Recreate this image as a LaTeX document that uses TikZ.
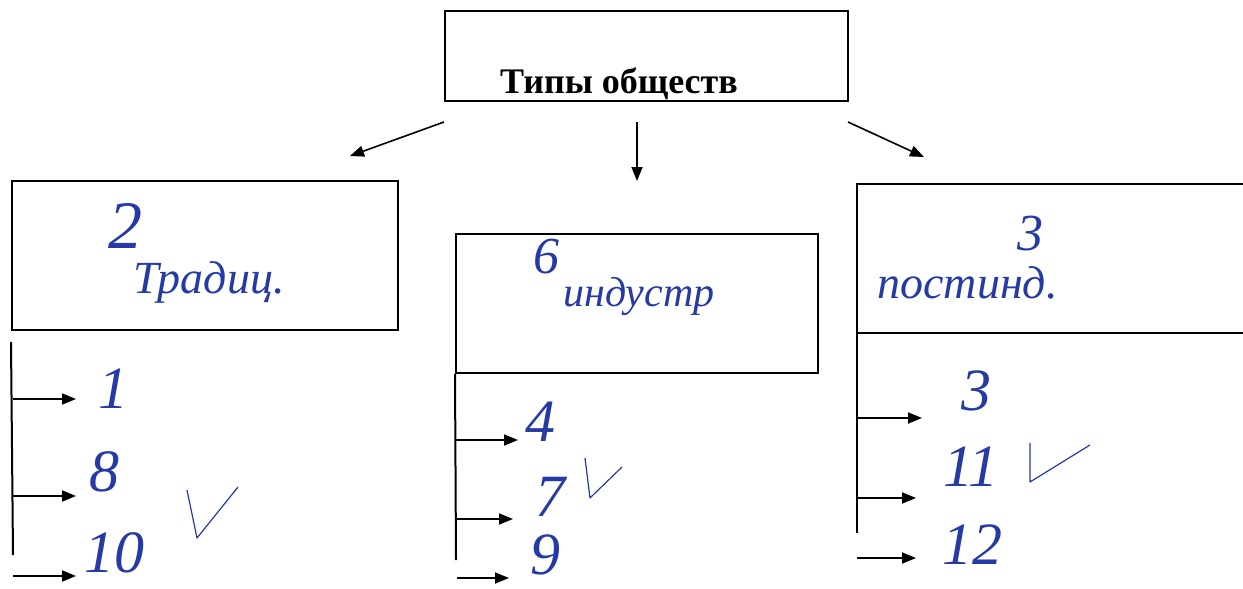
\documentclass[tikz,border=0pt]{standalone}
\usepackage{fontspec}
\setmainfont{Liberation Serif}
\usetikzlibrary{arrows.meta}
\definecolor{ink}{RGB}{38,58,165}
\tikzset{
  box/.style={draw, line width=1pt, inner sep=0pt},
  arr/.style={-{Triangle[length=7pt,width=5.5pt]}, line width=0.9pt},
  hand/.style={color=ink, font=\itshape\fontsize{23}{23}\selectfont, inner sep=0pt},
  num/.style={color=ink, font=\itshape\fontsize{30}{30}\selectfont, inner sep=0pt},
  tick/.style={ink, line width=0.6pt, line join=round}
}
\begin{document}
\begin{tikzpicture}[x=0.5pt, y=-0.5pt]
	\useasboundingbox[fill=white] (0,0) rectangle (1243,589);
	% Top box
	\node[box, minimum width=201.5pt, minimum height=45pt] (types) at (646,56) {};
	\node[font=\bfseries\fontsize{18}{18}\selectfont, anchor=base] (title) at (619,93) {Типы обществ};
	% Arrows from the top box
	\coordinate (tl) at (444,122); \coordinate (tm) at (637,122); \coordinate (tr) at (848,122);
	\coordinate (hl) at (350,156); \coordinate (hm) at (637,181); \coordinate (hr) at (924,157);
	\draw[arr, line width=0.8pt] (tl) -- (hl);
	\draw[arr, line width=0.8pt] (tm) -- (hm);
	\draw[arr, line width=0.8pt] (tr) -- (hr);
	% Boxes of the three types
	\node[box, minimum width=193pt, minimum height=74.5pt] (trad) at (205,255.5) {};
	\node[box, minimum width=181pt, minimum height=69.5pt] (ind) at (637,303.5) {};
	\draw[line width=1pt] (1243,184) -| (857,333) -- (1243,333);
	\coordinate (post) at (857,333);
	% Handwritten answers in the boxes
	\node[hand, font=\itshape\fontsize{34}{34}\selectfont] (n2) at (125,226) {2};
	\node[hand, anchor=base west] (tradtxt) at (133,293) {Традиц.};
	\node[hand, font=\itshape\fontsize{26}{26}\selectfont] (n6) at (546,257) {6};
	\node[hand, anchor=base west, font=\itshape\fontsize{21}{21}\selectfont] (indtxt) at (563,306) {индустр};
	\node[hand, anchor=base west] (posttxt) at (877,298) {постинд.};
	\node[hand, font=\itshape\fontsize{26}{26}\selectfont] (n3) at (1030,234) {3};
	% Lists under the boxes
	\draw[line width=1pt] (trad.south west) ++(0,11) coordinate (lt) -- (13,555) coordinate (lb);
	\draw[line width=1pt] (ind.south west) -- (456,560) coordinate (mb);
	\draw[line width=1pt] (post) -- (857,533) coordinate (rb);
	% left list
	\coordinate (a1) at (13,399); \coordinate (b1) at (76,399);
	\coordinate (a2) at (13,496); \coordinate (b2) at (76,496);
	\coordinate (a3) at (13,576); \coordinate (b3) at (76,576);
	\draw[arr] (a1) -- (b1);
	\draw[arr] (a2) -- (b2);
	\draw[arr] (a3) -- (b3);
	\node[num] (l1) at (113,389) {1};
	\node[num] (l2) at (105,472) {8};
	\node[num] (l3) at (114,553) {10};
	\draw[tick] (187,490) -- (197,538) -- (238,487);
	% middle list
	\coordinate (c1) at (456,440); \coordinate (d1) at (518,440);
	\coordinate (c2) at (456,519); \coordinate (d2) at (513,519);
	\coordinate (c3) at (457,578); \coordinate (d3) at (509,578);
	\draw[arr] (c1) -- (d1);
	\draw[arr] (c2) -- (d2);
	\draw[arr] (c3) -- (d3);
	\node[num] (m1) at (540,422) {4};
	\node[num] (m2) at (550,497) {7};
	\node[num] (m3) at (545,555) {9};
	\draw[tick] (585,458) -- (590,498) -- (622,467);
	% right list
	\coordinate (e1) at (857,418); \coordinate (f1) at (922,418);
	\coordinate (e2) at (857,498); \coordinate (f2) at (916,498);
	\coordinate (e3) at (857,558); \coordinate (f3) at (916,558);
	\draw[arr] (e1) -- (f1);
	\draw[arr] (e2) -- (f2);
	\draw[arr] (e3) -- (f3);
	\node[num] (r1) at (976,391) {3};
	\node[num] (r2) at (971,467) {11};
	\node[num] (r3) at (972,545) {12};
	\draw[tick] (1030,443) -- (1030,482) -- (1090,445);
\end{tikzpicture}
\end{document}
